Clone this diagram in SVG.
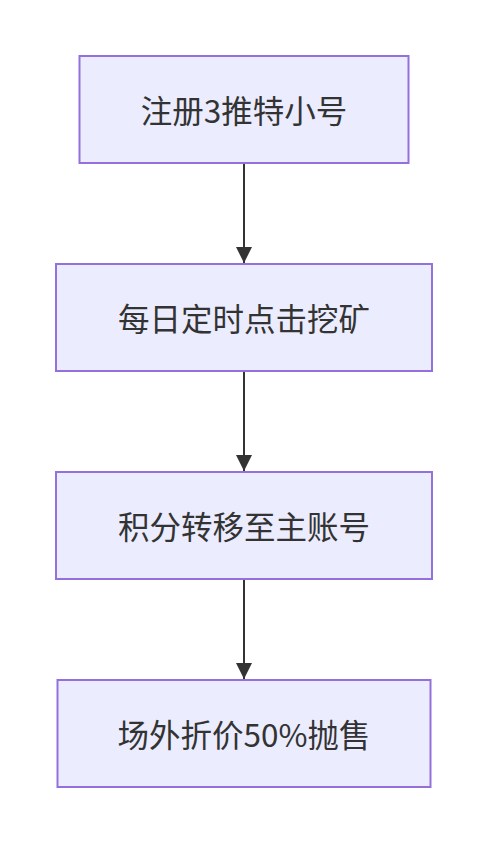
<svg xmlns="http://www.w3.org/2000/svg" width="488" height="844" viewBox="0 0 488 844">
<style>
.node rect{fill:#ECECFF;stroke:#9370DB;stroke-width:2}
.node text{font-family:"Noto Sans CJK SC","Noto Sans",sans-serif;font-size:31.5px;fill:#333333;text-anchor:middle;dominant-baseline:central}
.edge{stroke:#333333;stroke-width:2;fill:none}
</style>
<defs>
<marker id="arrow" viewBox="0 0 16 16" refX="16" refY="8" markerWidth="16" markerHeight="16" markerUnits="userSpaceOnUse" orient="auto">
<path d="M0,0 L16,8 L0,16 Z" fill="#333333"/>
</marker>
</defs>
<rect width="488" height="844" fill="#FFFFFF"/>
<g id="edges">
<line class="edge" x1="244" y1="164" x2="244" y2="263" marker-end="url(#arrow)"/>
<line class="edge" x1="244" y1="372" x2="244" y2="471" marker-end="url(#arrow)"/>
<line class="edge" x1="244" y1="580" x2="244" y2="679" marker-end="url(#arrow)"/>
</g>
<g id="n1" class="node"><rect x="79.5" y="56" width="329" height="107"/><text x="244" y="108.5">注册3推特小号</text></g>
<g id="n2" class="node"><rect x="56" y="264" width="376" height="107"/><text x="244" y="316.5">每日定时点击挖矿</text></g>
<g id="n3" class="node"><rect x="56" y="472" width="376" height="107"/><text x="244" y="524.5">积分转移至主账号</text></g>
<g id="n4" class="node"><rect x="57.5" y="680" width="373" height="107"/><text x="244" y="732.5">场外折价50%抛售</text></g>
</svg>
